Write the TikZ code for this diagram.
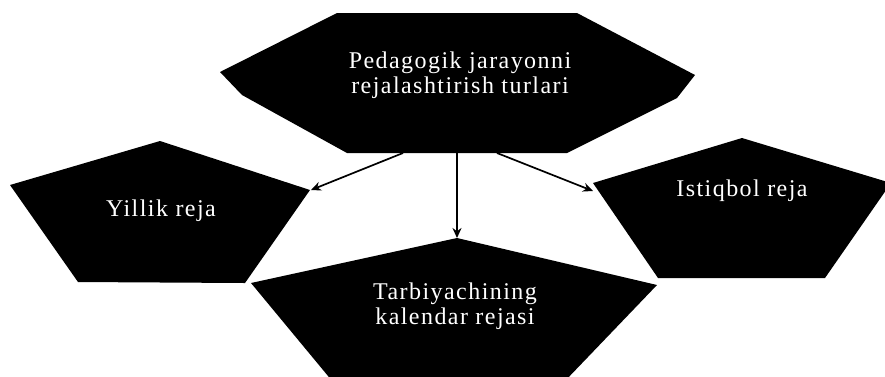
\documentclass[tikz,border=0pt]{standalone}
\usepackage{fontspec}
\setmainfont{Liberation Serif}[LetterSpace=6]
\usetikzlibrary{arrows.meta}
\tikzset{
  shapefill/.style={fill=black},
  label/.style={text=white, font=\fontsize{24}{25}\selectfont, align=center, inner sep=0pt},
  conn/.style={draw=black, line width=1.7pt, -{Stealth[length=10pt,width=9pt]}}
}
\begin{document}
\begin{tikzpicture}[x=1pt,y=-1pt]
\useasboundingbox (0,0) rectangle (885,376);
\clip (0,0) rectangle (885,376);
% top shape
\fill[shapefill] (337,13) -- (577,13) -- (695,75) -- (677,98) -- (567,153) -- (347,153) -- (242,95) -- (220,72) -- cycle;
% left pentagon
\fill[shapefill] (160,141) -- (310,190) -- (245,283) -- (78,282) -- (10,185) -- cycle;
% right pentagon
\fill[shapefill] (742,138) -- (891,183) -- (825,278) -- (658,278) -- (593,183) -- cycle;
% bottom pentagon
\fill[shapefill] (457,238) -- (657,285) -- (564,382) -- (333,382) -- (251,283) -- cycle;

\node[label] (top) at (460,75) {Pedagogik jarayonni\\rejalashtirish turlari};
\node[label] (yil) at (161,211) {Yillik reja};
\node[label] (ist) at (742,191) {Istiqbol reja};
\node[label] (tar) at (455,306) {Tarbiyachining\\kalendar rejasi};

\coordinate (topL) at (403,153);
\coordinate (topM) at (457,153);
\coordinate (topR) at (497,153);
\coordinate (yilR) at (311,190);
\coordinate (tarT) at (457,238);
\coordinate (istL) at (593,191);

\draw[conn] (topL) -- (yilR);
\draw[conn] (topM) -- (tarT);
\draw[conn] (topR) -- (istL);
\end{tikzpicture}
\end{document}
